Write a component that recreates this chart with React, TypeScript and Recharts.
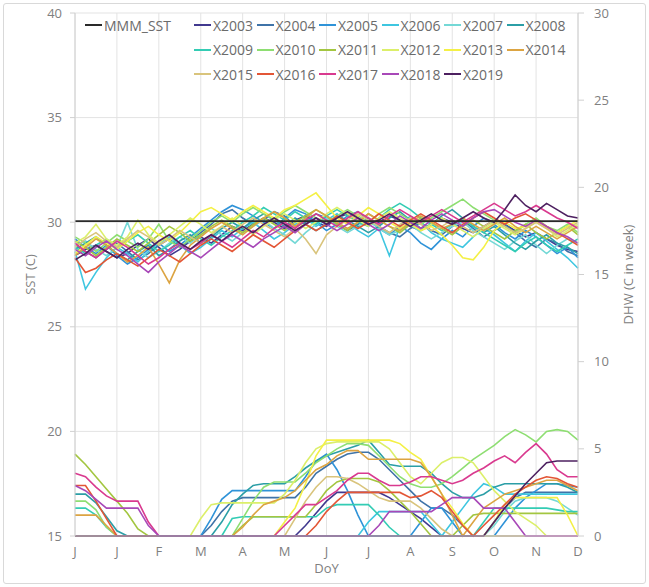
import { LineChart, Line, XAxis, YAxis, CartesianGrid } from "recharts";

const MONTH_LABELS = ["J", "J", "F", "M", "A", "M", "J", "J", "A", "S", "O", "N", "D"];
const MONTH_TICKS = [0, 4, 8, 12, 16, 20, 24, 28, 32, 36, 40, 44, 48];
const SST_TICKS = [15, 20, 25, 30, 35, 40];
const DHW_TICKS = [0, 5, 10, 15, 20, 25, 30];

const MMM_SST = 30.05;

const SST_2003 = [28.4,28.7,28.9,28.6,28.3,28.5,28.9,29.2,28.8,28.4,28.7,29.1,29.3,29.0,29.4,29.8,29.6,29.9,30.2,30.0,29.7,30.1,30.3,30.0,29.8,30.2,30.4,30.1,29.9,30.0,30.3,30.1,29.8,29.6,29.9,30.2,30.0,29.7,29.5,29.8,30.1,29.9,29.6,29.3,29.5,29.2,28.9,28.7,28.6];
const SST_2004 = [28.9,28.6,28.3,28.7,29.0,28.6,28.2,28.5,28.9,29.2,28.8,29.1,29.5,29.9,30.4,30.6,30.2,29.9,30.1,30.5,30.3,29.8,30.0,30.4,30.2,29.9,29.6,29.9,30.2,29.8,29.5,29.3,29.7,30.0,29.6,29.4,29.8,30.1,29.7,29.3,29.6,29.9,29.5,29.1,28.8,29.2,29.0,28.6,28.4];
const SST_2005 = [29.2,28.8,28.5,28.9,28.4,28.0,28.3,28.7,29.0,28.6,28.9,29.3,29.7,30.1,30.5,30.8,30.6,30.3,30.0,29.7,30.2,30.6,30.4,30.0,29.6,29.9,30.3,30.5,30.1,29.7,29.4,29.8,29.5,29.0,28.7,29.2,29.6,29.3,29.8,30.2,29.9,29.5,29.2,29.6,29.3,28.9,28.5,28.8,28.3];
const SST_2006 = [28.6,26.8,27.6,28.3,28.8,28.5,28.1,28.6,29.0,29.3,28.9,28.5,28.8,29.2,29.6,29.3,29.7,30.0,29.6,29.2,29.5,29.9,30.2,29.8,30.1,30.4,30.0,29.6,29.3,29.7,28.4,29.8,30.3,30.0,29.5,29.2,29.0,28.8,29.3,29.7,29.4,29.0,28.6,29.1,29.5,29.1,28.7,28.3,27.8];
const SST_2007 = [28.9,29.1,28.7,28.4,28.8,30.0,28.7,28.3,28.6,29.0,29.3,29.0,29.4,29.7,29.4,29.1,29.5,29.8,30.1,29.7,29.4,29.0,29.5,29.9,30.2,29.8,29.5,29.8,30.1,29.7,29.4,29.6,29.9,29.5,29.2,29.5,29.8,30.0,29.6,29.3,29.0,28.7,29.1,29.4,28.9,28.5,28.9,29.2,29.0];
const SST_2008 = [28.7,29.0,29.3,28.9,28.5,28.2,28.6,28.9,28.4,28.7,29.1,29.4,29.0,29.3,29.7,30.0,29.7,30.1,30.4,30.1,29.8,30.2,29.9,29.6,29.9,30.3,30.1,29.8,29.5,29.8,30.2,30.5,30.1,29.7,29.9,30.3,30.6,30.2,29.8,29.5,29.8,29.4,29.0,28.7,29.1,29.4,29.0,28.8,28.5];
const SST_2009 = [28.8,28.5,28.9,29.2,28.8,29.1,29.4,29.0,28.6,28.9,29.3,29.6,29.2,28.9,29.3,29.6,30.0,30.3,30.7,30.4,30.1,30.5,30.2,29.9,30.3,30.6,30.3,30.0,29.8,30.2,30.6,30.9,30.6,30.2,29.9,29.6,29.9,30.2,29.8,29.5,29.2,28.9,28.6,29.0,29.3,28.9,28.6,28.9,29.2];
const SST_2010 = [29.3,29.0,28.6,29.0,29.4,29.1,28.8,29.2,29.9,29.1,28.8,29.2,29.6,30.0,30.3,30.0,30.4,30.7,30.4,30.1,30.5,30.8,30.5,30.2,30.0,30.3,30.6,30.3,30.0,30.4,30.7,30.4,30.1,29.9,30.2,30.5,30.8,31.1,30.7,30.4,30.1,29.8,29.5,29.9,30.2,29.8,29.6,29.9,29.5];
const SST_2011 = [29.1,28.8,28.4,28.8,29.2,28.9,28.6,29.0,29.4,29.8,29.5,29.1,29.4,29.8,30.1,29.8,29.5,29.9,30.2,29.9,29.6,30.0,30.3,30.6,30.3,29.9,29.6,30.0,30.4,30.1,29.8,29.5,29.9,30.2,30.0,29.7,29.4,29.8,30.1,29.8,29.5,29.2,29.6,29.9,29.5,29.2,29.5,29.8,29.4];
const SST_2012 = [29.0,29.3,29.9,29.2,28.9,29.3,30.1,29.4,29.0,29.4,29.8,30.2,29.9,29.5,29.8,30.2,29.8,29.4,29.8,30.1,30.4,30.1,29.7,30.0,30.4,30.7,30.4,30.1,29.8,30.2,30.5,30.2,29.9,29.6,29.9,30.2,29.9,29.6,29.3,29.7,30.0,29.7,29.4,29.7,30.0,29.7,29.3,29.6,29.9];
const SST_2013 = [28.5,28.9,29.3,29.0,28.7,29.1,29.5,29.8,29.4,29.1,29.5,30.0,30.5,30.7,30.4,30.1,30.5,30.8,30.5,30.2,30.6,30.8,31.1,31.4,30.8,30.2,29.9,30.3,30.7,30.4,30.0,29.7,30.0,29.6,29.8,29.4,28.9,28.3,28.2,28.8,29.6,30.0,29.7,29.8,30.1,29.8,29.5,29.8,30.1];
const SST_2014 = [28.4,28.8,29.2,28.9,28.5,28.1,28.4,28.8,28.0,27.1,28.2,28.9,29.3,29.7,30.0,29.7,29.4,29.8,30.2,30.5,30.2,29.8,30.2,30.6,30.3,30.0,29.7,30.0,30.4,30.1,29.8,29.6,30.0,30.3,30.0,29.7,29.9,30.2,29.9,29.6,29.9,30.2,29.8,29.5,29.8,29.5,29.2,29.5,29.8];
const SST_2015 = [28.8,29.2,29.5,29.1,28.8,29.2,29.6,29.3,28.9,29.2,29.6,29.3,29.0,29.4,29.8,29.5,29.9,30.2,29.9,29.6,29.3,29.7,29.2,28.5,29.4,29.8,30.1,30.4,30.1,29.8,29.5,29.9,30.2,29.9,29.6,29.8,30.1,29.8,29.5,29.8,30.1,29.8,29.5,29.7,30.0,29.7,29.4,29.7,30.0];
const SST_2016 = [28.3,27.6,27.8,28.2,28.5,28.2,27.9,28.3,28.7,28.4,28.1,28.5,28.9,29.2,28.9,28.6,29.0,29.4,29.1,28.8,29.2,29.6,29.9,29.6,29.9,30.3,30.0,29.7,30.0,30.4,30.1,29.8,30.1,30.4,30.1,29.8,29.5,29.9,30.2,30.5,30.2,29.9,30.2,30.4,30.1,29.8,29.5,29.2,28.9];
const SST_2017 = [29.0,28.6,28.3,28.7,29.1,28.8,28.4,28.0,28.3,28.7,29.0,28.7,29.0,29.4,29.1,28.8,29.2,29.6,29.3,29.7,30.0,29.7,30.1,30.4,30.1,29.8,30.2,30.5,30.2,29.9,30.3,30.6,30.3,30.0,30.3,30.6,30.3,30.0,30.3,30.6,30.9,30.6,30.3,30.5,30.8,30.5,30.2,30.0,29.7];
const SST_2018 = [28.7,28.4,28.8,29.1,28.7,28.4,28.0,27.6,28.1,28.5,28.9,28.6,28.3,28.7,29.1,29.4,29.1,28.8,29.2,29.5,29.8,29.5,29.9,30.2,29.9,29.6,29.9,30.2,29.9,29.6,29.9,30.3,30.0,29.7,30.1,30.4,30.1,29.8,30.2,30.5,30.6,30.3,30.0,29.8,30.1,29.8,29.5,29.3,29.0];
const SST_2019 = [28.2,28.5,28.9,28.6,28.3,28.7,29.0,28.7,29.1,29.4,29.0,28.7,29.1,29.4,29.1,29.5,29.8,29.5,29.9,30.2,29.9,29.6,29.9,30.2,29.9,30.2,30.5,30.2,29.9,30.1,30.4,30.1,29.8,30.1,30.4,30.1,29.9,30.2,30.5,30.2,30.0,30.6,31.3,30.8,30.5,30.9,30.6,30.3,30.2];

const DHW_2003 = [0,0,0,0,0,0,0,0,0,0,0,0,0,0,0,0,0,0,0,0,0,0,0.6,1.3,2.0,2.5,2.5,2.5,2.5,2.5,2.2,1.8,1.4,1.0,0.5,0,0,0,0,0,0,0,0,0,0,0,0,0,0];
const DHW_2004 = [0,0,0,0,0,0,0,0,0,0,0,0,0,0.6,1.4,2.0,2.2,2.2,2.2,2.2,2.2,2.2,2.8,3.6,4.0,4.4,4.7,4.8,4.8,4.4,3.8,3.2,2.6,2.0,1.6,1.6,1.2,0.6,0,0,0.8,1.6,2.2,2.5,2.5,2.5,2.5,2.5,2.5];
const DHW_2005 = [0,0,0,0,0,0,0,0,0,0,0,0,0,1.0,2.1,2.6,2.6,2.6,2.6,2.6,2.6,2.6,3.4,4.3,4.7,3.8,2.6,1.2,0,0,0,0,0,0.8,1.6,1.6,0.8,0,0,0,0,0.8,1.6,2.2,2.6,3.0,3.0,2.9,2.8];
const DHW_2006 = [0,0,0,0,0,0,0,0,0,0,0,0,0,0,0,0,0,0,0,0,0,0,0,0,0,0,0,0,0.8,1.4,1.4,1.4,1.4,1.4,0.7,0,0.8,1.6,2.4,3.0,2.8,2.4,2.4,2.4,2.4,2.4,2.4,2.4,2.4];
const DHW_2007 = [0,0,0,0,0,0,0,0,0,0,0,0,0,0,0,0,0,0,0,0,0,0,0,0,0,0,0,0,0,0,0,0,0,0,0,0,0,0,0,0,0.6,1.4,2.0,2.2,2.2,2.2,2.0,1.6,1.2];
const DHW_2008 = [2.4,2.4,1.9,1.1,0.3,0,0,0,0,0,0,0,0,0,0.8,1.8,2.4,2.9,3.0,3.0,3.0,3.4,3.9,4.3,4.6,4.8,5.0,5.2,5.5,4.8,4.1,4.0,4.0,4.0,3.6,3.0,2.5,2.2,2.2,2.4,2.8,3.0,3.0,3.0,3.0,3.0,3.0,2.8,2.5];
const DHW_2009 = [1.6,1.6,1.2,0.5,0,0,0,0,0,0,0,0,0,0,0,1.0,1.1,1.1,1.1,1.1,1.1,1.1,1.1,1.1,1.6,1.8,1.8,1.8,1.8,1.2,0.5,0,0,0,0,0,0,0,0,0.8,1.6,1.6,1.6,1.6,1.6,1.6,1.5,1.4,1.4];
const DHW_2010 = [2.0,2.0,1.5,0.5,0,0,0,0,0,0,0,0,0,0,0,0,1.0,2.0,2.8,3.1,3.1,3.1,3.6,4.2,4.6,5.0,5.3,5.3,5.2,4.6,4.0,3.4,3.0,2.8,2.8,3.0,3.4,3.9,4.4,4.8,5.2,5.7,6.1,5.8,5.4,6.0,6.1,6.0,5.5];
const DHW_2011 = [4.7,4.1,3.4,2.7,2.0,1.3,0.4,0,0,0,0,0,0,0,0,0,0.6,1.1,1.1,1.1,1.1,1.1,1.1,1.8,2.6,3.1,3.3,3.3,3.3,3.1,2.6,2.0,1.4,0.7,0,0,0,0.6,1.2,1.3,1.3,1.3,1.3,1.3,1.3,1.3,1.3,1.3,1.3];
const DHW_2012 = [0,0,0,0,0,0,0,0,0,0,0,0,1.0,1.8,1.9,1.9,1.9,1.9,1.9,1.9,2.4,3.2,4.2,5.0,5.3,5.4,5.4,5.4,5.4,5.4,5.0,4.2,3.4,3.0,3.6,4.2,4.5,4.5,4.2,3.4,2.6,2.0,1.4,1.0,0.6,0,0,0,0];
const DHW_2013 = [0,0,0,0,0,0,0,0,0,0,0,0,0,0,0,0,0,0,0,0,0.8,1.6,3.0,4.6,5.5,5.5,5.5,5.5,5.5,5.5,5.5,5.3,4.8,4.4,3.4,2.4,1.6,0.7,0,0,0.8,1.8,2.2,2.2,2.2,2.2,2.2,1.2,0];
const DHW_2014 = [1.2,1.2,1.2,0.6,0,0,0,0,0,0,0,0,0,0,0,0,0.5,1.2,1.8,2.0,2.2,2.6,3.2,3.8,4.1,4.6,4.9,4.9,4.4,4.4,4.4,4.4,4.4,4.2,3.4,2.4,1.2,0,0.8,1.6,2.0,2.4,2.6,2.8,3.0,3.2,3.2,2.9,2.6];
const DHW_2015 = [0,0,0,0,0,0,0,0,0,0,0,0,0,0,0,0,0,0,0,0,0,1.0,2.0,2.8,3.4,3.4,3.3,3.0,2.6,2.2,2.0,2.0,2.0,1.6,1.0,0.4,0,0,0,0,0,0,0,0,0,0,0,0,0];
const DHW_2016 = [2.9,2.9,2.0,1.0,0,0,0,0,0,0,0,0,0,0,0,0,0,0,0,0,0,0,0,0.6,1.4,2.0,2.5,2.5,2.5,2.5,2.5,2.5,2.2,2.3,2.6,2.2,1.4,0.6,0,0.6,1.2,1.8,2.4,2.8,3.2,3.4,3.3,3.0,2.8];
const DHW_2017 = [3.6,3.4,2.8,2.3,2.0,2.0,2.0,0.8,0,0,0,0,0,0,0,0,0,0,0,0,0.6,1.2,1.8,1.8,2.2,2.6,3.2,3.6,3.6,3.2,2.9,2.9,3.1,3.4,3.4,3.2,3.0,3.2,3.6,3.9,4.3,4.6,4.2,4.8,5.3,4.7,3.8,3.4,3.4];
const DHW_2018 = [2.9,2.6,2.1,1.6,1.6,1.6,1.6,0.6,0,0,0,0,0,0,0,0,0,0,0,0,0,0,0,0,0,0,0,0,0,0.6,1.4,1.4,1.4,1.4,1.4,1.8,2.2,2.2,2.2,1.6,1.6,1.6,0.8,0,0,0,0,0,0];
const DHW_2019 = [0,0,0,0,0,0,0,0,0,0,0,0,0,0,0,0,0,0,0,0,0,0,0,0,0,0,0,0,0,0,0,0,0,0,0,0,0,0,0,0,0.8,1.6,2.3,3.0,3.6,4.2,4.3,4.3,4.3];

const SERIES = [
  { name: "X2003", color: "#41398f", sst: SST_2003, dhw: DHW_2003 },
  { name: "X2004", color: "#3f73a8", sst: SST_2004, dhw: DHW_2004 },
  { name: "X2005", color: "#2f93d8", sst: SST_2005, dhw: DHW_2005 },
  { name: "X2006", color: "#3ec6e0", sst: SST_2006, dhw: DHW_2006 },
  { name: "X2007", color: "#74d8d6", sst: SST_2007, dhw: DHW_2007 },
  { name: "X2008", color: "#2b9ea6", sst: SST_2008, dhw: DHW_2008 },
  { name: "X2009", color: "#33ccb4", sst: SST_2009, dhw: DHW_2009 },
  { name: "X2010", color: "#8ede72", sst: SST_2010, dhw: DHW_2010 },
  { name: "X2011", color: "#a3c640", sst: SST_2011, dhw: DHW_2011 },
  { name: "X2012", color: "#dcef6a", sst: SST_2012, dhw: DHW_2012 },
  { name: "X2013", color: "#f4f046", sst: SST_2013, dhw: DHW_2013 },
  { name: "X2014", color: "#dca442", sst: SST_2014, dhw: DHW_2014 },
  { name: "X2015", color: "#d9c47c", sst: SST_2015, dhw: DHW_2015 },
  { name: "X2016", color: "#e35636", sst: SST_2016, dhw: DHW_2016 },
  { name: "X2017", color: "#d93a8f", sst: SST_2017, dhw: DHW_2017 },
  { name: "X2018", color: "#a848b8", sst: SST_2018, dhw: DHW_2018 },
  { name: "X2019", color: "#4d2060", sst: SST_2019, dhw: DHW_2019 },
];

const MMM_COLOR = "#2a2a2a";

const rows = SST_2003.map((_, i) => {
  const row: Record<string, number> = { week: i, mmm: MMM_SST };
  SERIES.forEach((s) => {
    row["sst_" + s.name] = s.sst[i];
    row["dhw_" + s.name] = s.dhw[i];
  });
  return row;
});

const tickStyle = { fill: "#808080", fontSize: 13 };

function LegendOverlay() {
  const item = (label: string, color: string, x: number, y: number) => (
    <div
      key={label}
      style={{ position: "absolute", left: x, top: y - 10, height: 20, display: "flex", alignItems: "center" }}
    >
      <span style={{ width: 17, height: 2, background: color, display: "inline-block", marginRight: 2 }} />
      <span style={{ fontSize: 14, color: "#6b6b6b" }}>{label}</span>
    </div>
  );
  return (
    <>
      {item("MMM_SST", MMM_COLOR, 85, 25)}
      {SERIES.map((s, i) => item(s.name, s.color, 194 + (i % 6) * 62.5, 25 + Math.floor(i / 6) * 24.5))}
    </>
  );
}

export default function App() {
  return (
    <div
      style={{
        position: "absolute",
        left: 0,
        top: 0,
        width: 649,
        height: 587,
        background: "#fff",
        fontFamily: "'Open Sans', sans-serif",
      }}
    >
      <div
        style={{
          position: "absolute",
          left: 3,
          top: 3,
          width: 641,
          height: 579,
          border: "1px solid #d9d9d9",
          borderRadius: 3,
        }}
      />
      <LineChart
        width={649}
        height={587}
        data={rows}
        margin={{ top: 13, right: 21, bottom: 23, left: 25 }}
        style={{ position: "absolute", left: 0, top: 0 }}
      >
        <CartesianGrid yAxisId="sst" stroke="#e3e3e3" />
        <XAxis
          dataKey="week"
          type="number"
          domain={[0, 48]}
          ticks={MONTH_TICKS}
          tickFormatter={(v: number) => MONTH_LABELS[MONTH_TICKS.indexOf(v)]}
          tick={tickStyle}
          tickLine={false}
          tickMargin={5}
          axisLine={{ stroke: "#d0d0d0" }}
          height={28}
          label={{ value: "DoY", position: "bottom", offset: 0, fill: "#808080", fontSize: 13 }}
        />
        <YAxis
          yAxisId="sst"
          domain={[15, 40]}
          ticks={SST_TICKS}
          width={50}
          tick={tickStyle}
          tickSize={5}
          tickMargin={8}
          axisLine={{ stroke: "#d0d0d0" }}
          tickLine={{ stroke: "#d0d0d0" }}
          label={{ value: "SST (C)", angle: -90, position: "insideLeft", offset: 5, fill: "#808080", fontSize: 13, style: { textAnchor: "middle" } }}
        />
        <YAxis
          yAxisId="dhw"
          orientation="right"
          domain={[0, 30]}
          ticks={DHW_TICKS}
          width={50}
          tick={tickStyle}
          tickSize={6}
          tickMargin={10}
          axisLine={{ stroke: "#d0d0d0" }}
          tickLine={{ stroke: "#d0d0d0" }}
          label={{ value: "DHW (C in week)", angle: -90, position: "insideRight", offset: 0, fill: "#808080", fontSize: 13, style: { textAnchor: "middle" } }}
        />
        {SERIES.map((s) => (
          <Line
            key={"dhw_" + s.name}
            yAxisId="dhw"
            dataKey={"dhw_" + s.name}
            stroke={s.color}
            strokeWidth={1.6}
            dot={false}
            isAnimationActive={false}
          />
        ))}
        {SERIES.map((s) => (
          <Line
            key={"sst_" + s.name}
            yAxisId="sst"
            dataKey={"sst_" + s.name}
            stroke={s.color}
            strokeWidth={1.6}
            dot={false}
            isAnimationActive={false}
          />
        ))}
        <Line
          yAxisId="sst"
          dataKey="mmm"
          stroke={MMM_COLOR}
          strokeWidth={1.8}
          dot={false}
          isAnimationActive={false}
        />
      </LineChart>
      <LegendOverlay />
    </div>
  );
}
